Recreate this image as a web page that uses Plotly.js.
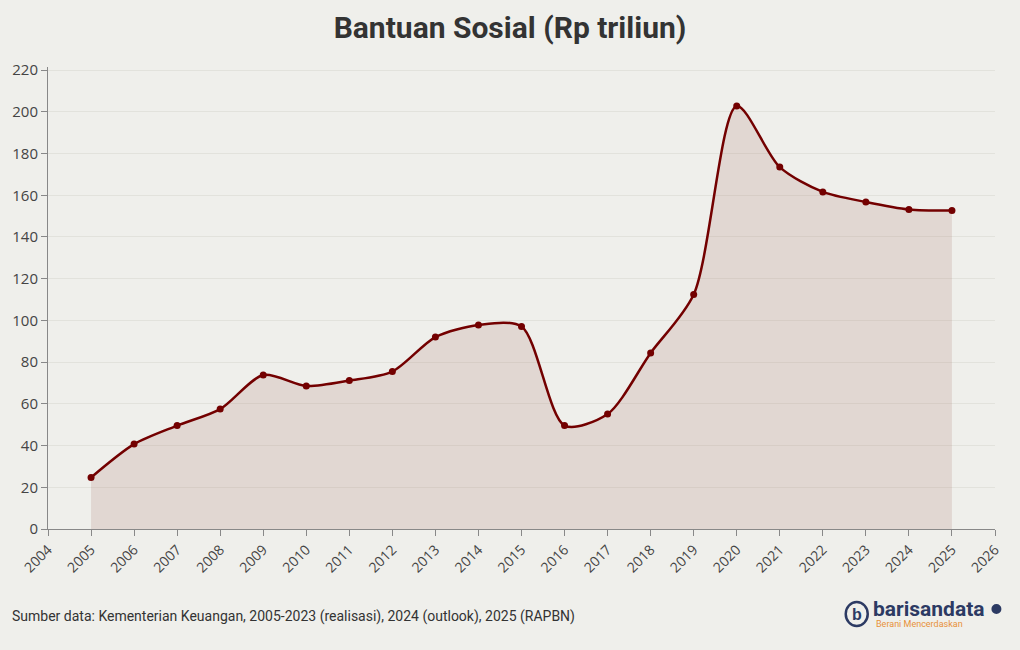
<!DOCTYPE html>
<html>
<head>
<meta charset="utf-8">
<script src="https://cdn.plot.ly/plotly-3.0.1.min.js"></script>
<style>html,body{margin:0;padding:0;background:#efefeb;}</style>
</head>
<body>
<div id="chart" style="width:1020px;height:650px;"></div>
<script>
const years = [2005,2006,2007,2008,2009,2010,2011,2012,2013,2014,2015,2016,2017,2018,2019,2020,2021,2022,2023,2024,2025];
const bansos = [24.7,40.7,49.6,57.5,73.8,68.6,71.2,75.5,92.0,97.8,97.1,49.6,55.1,84.4,112.4,202.8,173.5,161.6,156.8,153.2,152.7];
const xTicks = [2004,2005,2006,2007,2008,2009,2010,2011,2012,2013,2014,2015,2016,2017,2018,2019,2020,2021,2022,2023,2024,2025,2026];
const yTicks = [0,20,40,60,80,100,120,140,160,180,200,220];
const titleText = "Bantuan Sosial (Rp triliun)";
const sourceText = "Sumber data: Kementerian Keuangan, 2005-2023 (realisasi), 2024 (outlook), 2025 (RAPBN)";

const trace = {
  x: years, y: bansos, type: 'scatter', mode: 'lines+markers',
  line: {shape: 'spline', smoothing: 0.8, color: '#730000', width: 2.5},
  marker: {size: 7, color: '#730000'},
  fill: 'tozeroy', fillcolor: 'rgba(160,100,90,0.17)',
  hoverinfo: 'x+y'
};

const layout = {
  width: 1020, height: 650,
  paper_bgcolor: '#efefeb', plot_bgcolor: '#efefeb',
  margin: {l: 48, r: 25, t: 67, b: 121},
  showlegend: false,
  title: {text: '<b>' + titleText + '</b>', x: 0.5, xanchor: 'center', y: 0.957, yanchor: 'middle',
          font: {family: 'Roboto, sans-serif', size: 30, color: '#333333'}},
  xaxis: {
    range: [2004, 2026], tickvals: xTicks, ticktext: xTicks.map(String), tickangle: -45,
    ticks: 'outside', ticklen: 6, tickcolor: '#888', showline: true, linecolor: '#888', linewidth: 1,
    showgrid: false, zeroline: false,
    tickfont: {family: 'Open Sans, sans-serif', size: 14, color: '#444'}
  },
  yaxis: {
    range: [0, 221.5], tickvals: yTicks, ticks: 'outside', ticklen: 6, tickcolor: '#888',
    showline: true, linecolor: '#888', linewidth: 1,
    showgrid: true, gridcolor: '#e2e2dc', zeroline: false,
    tickfont: {family: 'Open Sans, sans-serif', size: 15, color: '#444'}
  },
  shapes: [
    {type: 'circle', xref: 'paper', yref: 'paper', xsizemode: 'pixel', ysizemode: 'pixel',
     xanchor: 0.854, yanchor: -0.184, x0: -11, x1: 11, y0: -12, y1: 12,
     line: {color: '#2c3a63', width: 2.5}, fillcolor: 'rgba(0,0,0,0)'},
    {type: 'circle', xref: 'paper', yref: 'paper', xsizemode: 'pixel', ysizemode: 'pixel',
     xanchor: 1.0015, yanchor: -0.173, x0: -5, x1: 5, y0: -5, y1: 5,
     line: {color: '#2c3a63', width: 0}, fillcolor: '#2c3a63'}
  ],
  annotations: [
    {text: sourceText, xref: 'paper', yref: 'paper', x: -0.0401, y: -0.190, xanchor: 'left', yanchor: 'middle',
     showarrow: false, font: {family: 'Roboto, sans-serif', size: 14, color: '#333'}},
    {text: '<b>b</b>', xref: 'paper', yref: 'paper', x: 0.854, y: -0.184, xanchor: 'center', yanchor: 'middle',
     showarrow: false, font: {family: 'Liberation Sans, sans-serif', size: 16, color: '#2c3a63'}},
    {text: '<b>barisandata</b>', xref: 'paper', yref: 'paper', x: 0.869, y: -0.173, xanchor: 'left', yanchor: 'middle',
     showarrow: false, font: {family: 'Roboto, sans-serif', size: 21, color: '#2c3a63'}},
    {text: 'Berani Mencerdaskan', xref: 'paper', yref: 'paper', x: 0.872, y: -0.206, xanchor: 'left', yanchor: 'middle',
     showarrow: false, font: {family: 'Roboto, sans-serif', size: 9, color: '#e8913a'}}
  ]
};

Plotly.newPlot('chart', [trace], layout, {displayModeBar: false, staticPlot: true});
</script>
</body>
</html>
